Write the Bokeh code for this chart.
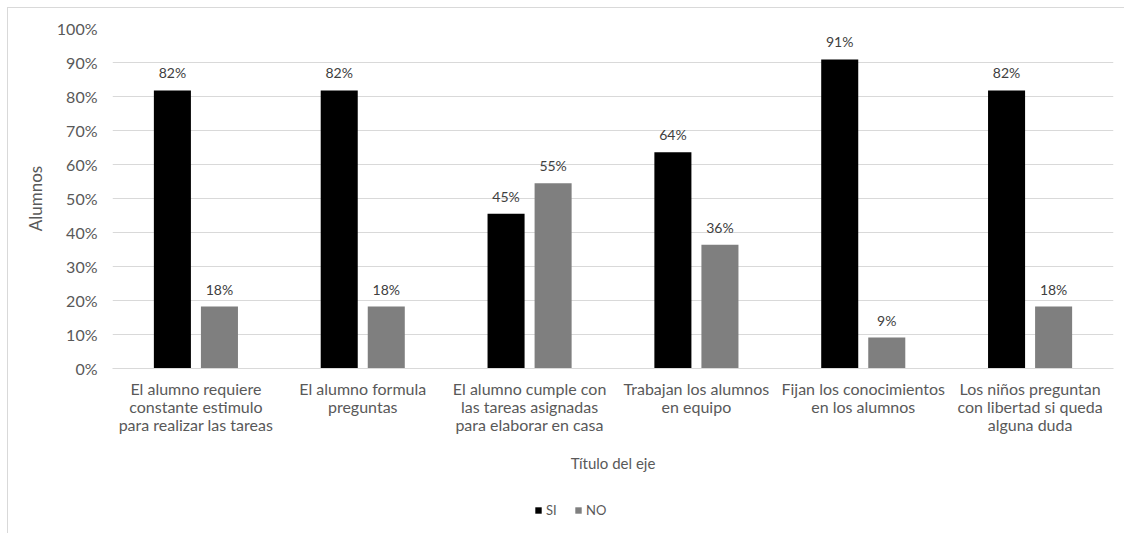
from bokeh.plotting import figure
from bokeh.layouts import column
from bokeh.models import (ColumnDataSource, FactorRange, Range1d, FixedTicker,
                          NumeralTickFormatter, LabelSet, Legend, LegendItem)
from bokeh.core.properties import value
from bokeh.transform import dodge
from bokeh.embed import file_html
from bokeh.resources import INLINE

categories = [
    "El alumno requiere\nconstante estimulo\npara realizar las tareas",
    "El alumno formula\npreguntas",
    "El alumno cumple con\nlas tareas asignadas\npara elaborar en casa",
    "Trabajan los alumnos\nen equipo",
    "Fijan los conocimientos\nen los alumnos",
    "Los niños preguntan\ncon libertad si queda\nalguna duda",
]
si_values = [0.818, 0.818, 0.455, 0.636, 0.909, 0.818]
no_values = [0.182, 0.182, 0.545, 0.364, 0.091, 0.182]
si_labels = ["82%", "82%", "45%", "64%", "91%", "82%"]
no_labels = ["18%", "18%", "55%", "36%", "9%", "18%"]
y_ticks = [0.0, 0.1, 0.2, 0.3, 0.4, 0.5, 0.6, 0.7, 0.8, 0.9, 1.0]
series_names = ["SI", "NO"]
series_colors = ["#000000", "#7f7f7f"]

FONT = "Lato"
GRAY = "#595959"

src = ColumnDataSource(dict(cat=categories, si=si_values, no=no_values,
                            si_lab=si_labels, no_lab=no_labels))

p = figure(width=1116, height=482, x_range=FactorRange(factors=categories, range_padding=0),
           y_range=Range1d(0, 1), output_backend="svg", toolbar_location=None,
           min_border_left=104, min_border_right=11, min_border_top=20, min_border_bottom=122)

OFF = 0.141
W = 0.222
p.vbar(x=dodge("cat", -OFF, range=p.x_range), top="si", width=W, source=src,
       fill_color=series_colors[0], line_color=None)
p.vbar(x=dodge("cat", OFF, range=p.x_range), top="no", width=W, source=src,
       fill_color=series_colors[1], line_color=None)

for col, lab in (("si", "si_lab"), ("no", "no_lab")):
    ls = LabelSet(x=dodge("cat", -OFF if col == "si" else OFF, range=p.x_range), y=col,
                  text=lab, source=src, text_align="center", text_baseline="bottom",
                  y_offset=9, text_font_size="14px", text_color="#404040",
                  text_font=value(FONT))
    p.add_layout(ls)

p.yaxis.ticker = FixedTicker(ticks=y_ticks)
p.yaxis.formatter = NumeralTickFormatter(format="0%")
p.yaxis.axis_line_color = None
p.yaxis.major_tick_line_color = None
p.yaxis.minor_tick_line_color = None
p.yaxis.major_label_text_font = FONT
p.yaxis.major_label_text_font_size = "16px"
p.yaxis.major_label_text_color = GRAY
p.yaxis.major_label_standoff = 9
p.yaxis.axis_label = "Alumnos"
p.yaxis.axis_label_text_font = FONT
p.yaxis.axis_label_text_font_size = "17px"
p.yaxis.axis_label_text_font_style = "normal"
p.yaxis.axis_label_text_color = GRAY
p.yaxis.axis_label_standoff = 8

p.xaxis.axis_line_color = "#d9d9d9"
p.xaxis.major_tick_line_color = None
p.xaxis.minor_tick_line_color = None
p.xaxis.major_label_text_font = FONT
p.xaxis.major_label_text_font_size = "16px"
p.xaxis.major_label_text_color = GRAY
p.xaxis.major_label_text_line_height = 0.96
p.xaxis.major_label_standoff = 4
p.xaxis.axis_label = "Título del eje"
p.xaxis.axis_label_text_font = FONT
p.xaxis.axis_label_text_font_size = "15px"
p.xaxis.axis_label_text_font_style = "normal"
p.xaxis.axis_label_text_color = GRAY
p.xaxis.axis_label_standoff = 17

p.xgrid.grid_line_color = None
p.ygrid.grid_line_color = "#d9d9d9"
p.outline_line_color = None

# legend strip
lsrc = ColumnDataSource(dict(v=[0.5], t=[0.5]))
pl = figure(width=1116, height=43, output_backend="svg", toolbar_location=None,
            min_border=0, x_range=Range1d(0, 1), y_range=Range1d(0, 1))
pl.axis.visible = False
pl.grid.visible = False
pl.outline_line_color = None
items = []
for name, color in zip(series_names, series_colors):
    r = pl.vbar(x="v", top="t", width=0.01, source=lsrc, fill_color=color,
                line_color=None, visible=False)
    items.append(LegendItem(label=name, renderers=[r]))
legend = Legend(items=items, orientation="horizontal", location=(422, 15),
                label_text_font=FONT, label_text_font_size="13px", label_text_color=GRAY,
                glyph_width=8, glyph_height=8, spacing=8, label_standoff=4,
                padding=0, margin=0, border_line_color=None, background_fill_alpha=0,
                inactive_fill_alpha=0)
pl.add_layout(legend, "center")

layout = column(p, pl, spacing=0)
layout.styles = {"margin-left": "7px", "margin-top": "7px",
                 "border-left": "1px solid #d9d9d9", "border-top": "1px solid #d9d9d9"}
open("out.html", "w").write(file_html(layout, INLINE))
